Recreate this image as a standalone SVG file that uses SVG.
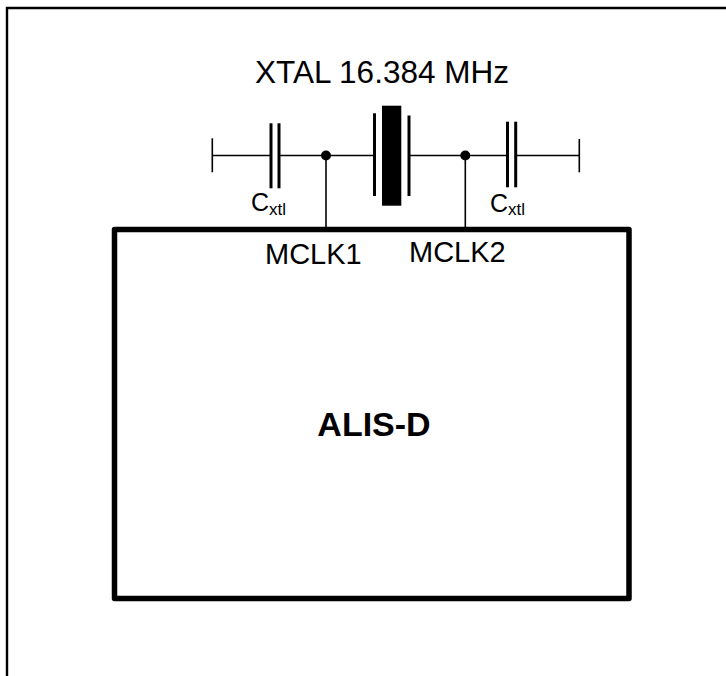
<svg xmlns="http://www.w3.org/2000/svg" width="726" height="676" viewBox="0 0 726 676">
<style>
.wire{stroke:#000;stroke-width:1.6;fill:none}
.plate{stroke:#000;stroke-width:3;fill:none}
.t{font-family:"Liberation Sans",Arial,sans-serif;fill:#000}
</style>
<rect width="726" height="676" fill="#fff"/>
<path d="M7,676 V8 H726" stroke="#000" stroke-width="2.4" fill="none"/>
<g id="alis-d">
<rect x="114.5" y="229.5" width="514.5" height="369" fill="none" stroke="#000" stroke-width="5.5" stroke-linejoin="round"/>
<text class="t" x="374" y="436" font-size="34" font-weight="bold" text-anchor="middle">ALIS-D</text>
<text class="t" x="265" y="264" font-size="29">MCLK1</text>
<text class="t" x="409" y="261.5" font-size="29">MCLK2</text>
</g>
<g id="xtal">
<rect x="382" y="105.7" width="19.3" height="100" fill="#000"/>
<line class="plate" x1="374.5" y1="113.3" x2="374.5" y2="196"/>
<line class="plate" x1="409" y1="115.5" x2="409" y2="196"/>
<text class="t" x="382" y="83" font-size="31.5" text-anchor="middle">XTAL 16.384 MHz</text>
</g>
<g id="cxtl1">
<line class="plate" x1="271" y1="123.3" x2="271" y2="188.3"/>
<line class="plate" x1="279" y1="123.3" x2="279" y2="188.3"/>
<line class="wire" x1="212.3" y1="138.3" x2="212.3" y2="172.3"/>
<text class="t" x="251" y="210.7" font-size="25">C<tspan font-size="17" dy="4">xtl</tspan></text>
</g>
<g id="cxtl2">
<line class="plate" x1="507.5" y1="121.7" x2="507.5" y2="187.3"/>
<line class="plate" x1="515.7" y1="121.7" x2="515.7" y2="187.3"/>
<line class="wire" x1="579.3" y1="139" x2="579.3" y2="172.3"/>
<text class="t" x="490" y="211.5" font-size="25">C<tspan font-size="17" dy="3">xtl</tspan></text>
</g>
<g id="connectors">
<line class="wire" x1="212.3" y1="155.5" x2="271" y2="155.5"/>
<line class="wire" x1="279" y1="155.5" x2="374.5" y2="155.5"/>
<line class="wire" x1="409" y1="155.5" x2="507.5" y2="155.5"/>
<line class="wire" x1="515.7" y1="155.5" x2="579.3" y2="155.5"/>
<line class="wire" x1="326" y1="155.5" x2="326" y2="228"/>
<line class="wire" x1="465.3" y1="155.5" x2="465.3" y2="228"/>
<circle cx="326" cy="155.5" r="5" fill="#000"/>
<circle cx="465.3" cy="155.5" r="5" fill="#000"/>
</g>
</svg>
